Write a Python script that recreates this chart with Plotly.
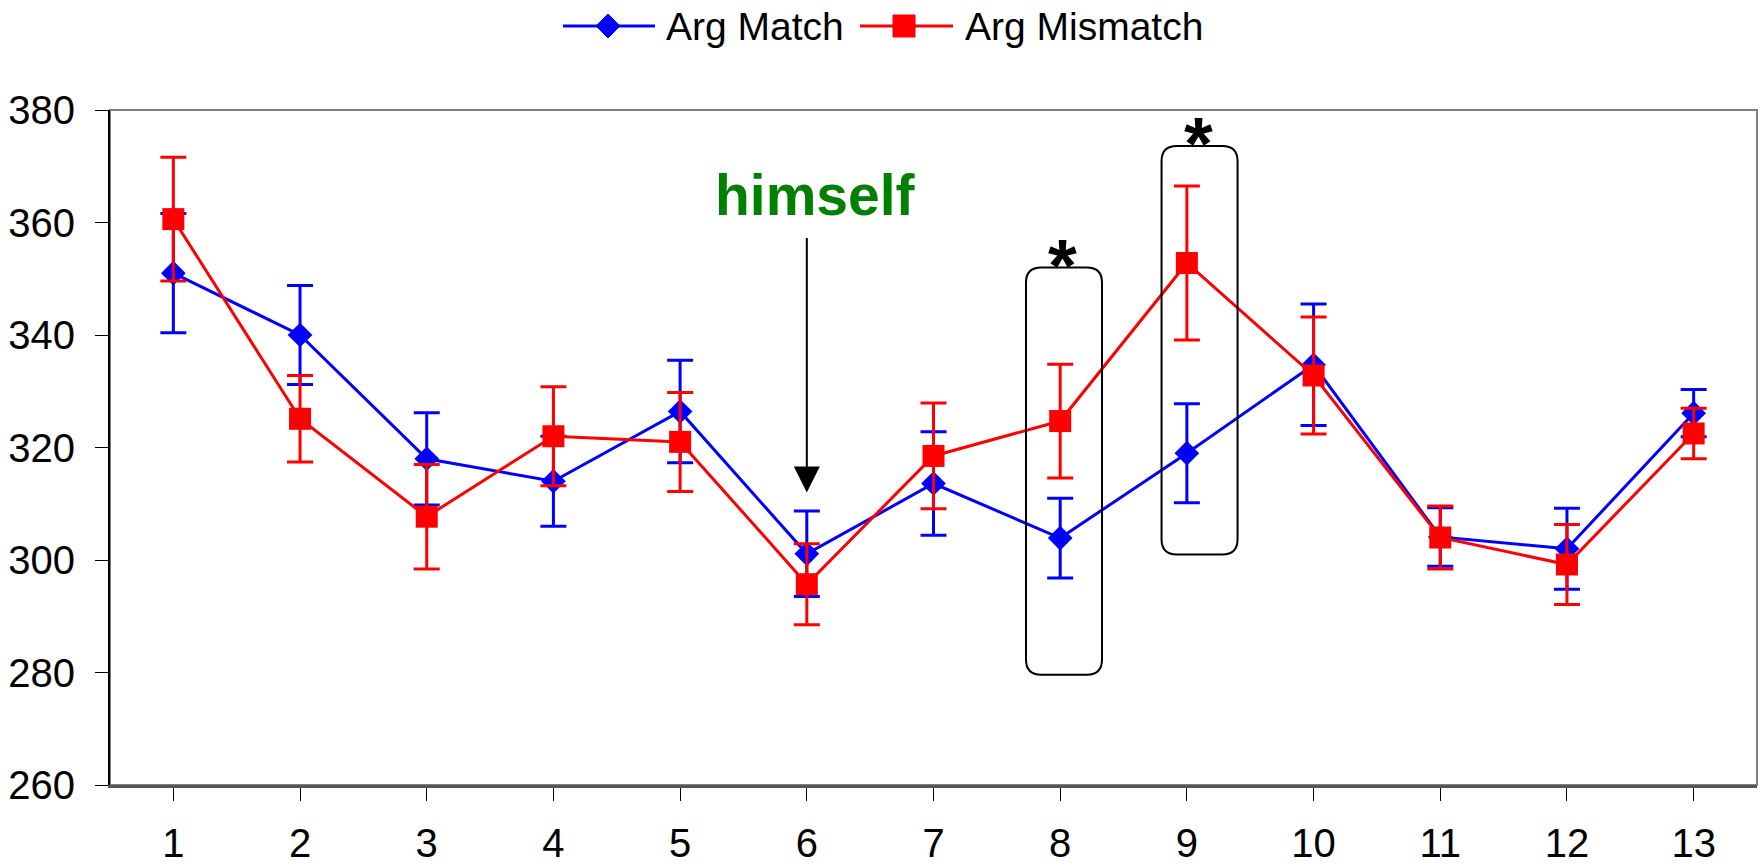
import plotly.graph_objects as go

# Positions 1..13 and mean values with standard errors
positions = list(range(1, 14))
tick_labels = [str(p) for p in positions]

match_mean = [351.0, 340.0, 318.0, 314.0, 326.4, 301.1, 313.6, 303.9, 319.0, 334.7, 304.1, 302.0, 326.1]
match_err = [10.6, 8.8, 8.2, 8.0, 9.1, 7.6, 9.2, 7.1, 8.8, 10.8, 5.2, 7.2, 4.2]

mismatch_mean = [360.6, 325.1, 307.7, 322.0, 321.0, 295.7, 318.5, 324.7, 352.8, 332.8, 304.0, 299.2, 322.5]
mismatch_err = [11.0, 7.7, 9.3, 8.8, 8.8, 7.2, 9.4, 10.1, 13.7, 10.4, 5.6, 7.1, 4.5]

y_ticks = [260, 280, 300, 320, 340, 360, 380]

series_names = ["Arg Match", "Arg Mismatch"]

FONT = "Liberation Sans, Arial, sans-serif"
BLUE = "#0000FF"
RED = "#FF0000"

W, H = 1761, 867
ML, MR, MT, MB = 110, 4, 110, 82
PW, PH = W - ML - MR, H - MT - MB

fig = go.Figure()

fig.add_trace(go.Scatter(
    x=positions, y=match_mean, name=series_names[0], mode="lines+markers",
    line=dict(color=BLUE, width=3),
    marker=dict(symbol="diamond", size=19, color=BLUE),
    error_y=dict(type="data", array=match_err, visible=True,
                 color=BLUE, thickness=3, width=13),
))
fig.add_trace(go.Scatter(
    x=positions, y=mismatch_mean, name=series_names[1], mode="lines+markers",
    line=dict(color=RED, width=3),
    marker=dict(symbol="square", size=22, color=RED),
    error_y=dict(type="data", array=mismatch_err, visible=True,
                 color=RED, thickness=3, width=13),
))


def rounded_box(x0, x1, y0, y1, rx=0.12, ry=2.7):
    """SVG path for a rounded rectangle in data coordinates."""
    return (f"M {x0+rx},{y0} L {x1-rx},{y0} Q {x1},{y0} {x1},{y0+ry} "
            f"L {x1},{y1-ry} Q {x1},{y1} {x1-rx},{y1} "
            f"L {x0+rx},{y1} Q {x0},{y1} {x0},{y1-ry} "
            f"L {x0},{y0+ry} Q {x0},{y0} {x0+rx},{y0} Z")


def px_x(px):
    """Horizontal pixel position -> paper coordinate."""
    return (px - ML) / PW


def px_y(py):
    """Vertical pixel position (from top) -> paper coordinate."""
    return (H - MB - py) / PH


shapes = [
    # plot frame (grey top / right edges)
    dict(type="rect", xref="paper", yref="paper", x0=0, x1=1, y0=0, y1=1,
         line=dict(color="#808080", width=2), layer="below"),
    # highlighted positions
    dict(type="path", xref="x", yref="y",
         path=rounded_box(7.73, 8.33, 279.6, 352.0),
         line=dict(color="black", width=2)),
    dict(type="path", xref="x", yref="y",
         path=rounded_box(8.80, 9.40, 301.0, 373.6),
         line=dict(color="black", width=2)),
]

# Legend drawn above the plot with long sample lines
leg_y = 26
for (x0, x1), color in zip([(563, 655), (860, 953)], [BLUE, RED]):
    shapes.append(dict(type="line", xref="paper", yref="paper",
                       x0=px_x(x0), x1=px_x(x1), y0=px_y(leg_y), y1=px_y(leg_y),
                       line=dict(color=color, width=3)))
# diamond sample
cx, r = 608, 12
shapes.append(dict(type="path", xref="paper", yref="paper",
                   path=(f"M {px_x(cx - r)},{px_y(leg_y)} L {px_x(cx)},{px_y(leg_y - r)} "
                         f"L {px_x(cx + r)},{px_y(leg_y)} L {px_x(cx)},{px_y(leg_y + r)} Z"),
                   fillcolor=BLUE, line=dict(color=BLUE, width=1)))
# square sample
cx, r = 904, 11
shapes.append(dict(type="rect", xref="paper", yref="paper",
                   x0=px_x(cx - r), x1=px_x(cx + r), y0=px_y(leg_y + r), y1=px_y(leg_y - r),
                   fillcolor=RED, line=dict(color=RED, width=1)))

annotations = [
    dict(x=px_x(664), y=px_y(leg_y), xref="paper", yref="paper", text=series_names[0],
         showarrow=False, xanchor="left", yanchor="middle",
         font=dict(family=FONT, size=39, color="black")),
    dict(x=px_x(963), y=px_y(leg_y), xref="paper", yref="paper", text=series_names[1],
         showarrow=False, xanchor="left", yanchor="middle",
         font=dict(family=FONT, size=39, color="black")),
    dict(x=6.07, y=364.9, xref="x", yref="y", text="<b>himself</b>",
         showarrow=False, font=dict(family=FONT, size=57, color="#008000"),
         xanchor="center", yanchor="middle"),
    dict(x=6, y=312.0, xref="x", yref="y", ax=6, ay=357.5, axref="x", ayref="y",
         text="", showarrow=True, arrowhead=2, arrowsize=2.6, arrowwidth=2,
         arrowcolor="black"),
    dict(x=8.02, y=352.3, xref="x", yref="y", text="<b>*</b>", showarrow=False,
         font=dict(family=FONT, size=74, color="black"),
         xanchor="center", yanchor="middle"),
    dict(x=9.09, y=374.0, xref="x", yref="y", text="<b>*</b>", showarrow=False,
         font=dict(family=FONT, size=74, color="black"),
         xanchor="center", yanchor="middle"),
]

fig.update_layout(
    width=W, height=H,
    margin=dict(l=ML, r=MR, t=MT, b=MB),
    paper_bgcolor="white", plot_bgcolor="white",
    font=dict(family=FONT, size=40, color="black"),
    showlegend=False,
    shapes=shapes,
    annotations=annotations,
)

fig.update_xaxes(
    range=[0.5, 13.5], tickmode="array", tickvals=positions, ticktext=tick_labels,
    tickson="boundaries", ticks="outside", ticklen=13, tickwidth=1,
    tickcolor="black", showline=True, linecolor="#555555", linewidth=3,
    showgrid=False, zeroline=False, ticklabelstandoff=8, automargin=False,
    tickfont=dict(family=FONT, size=40, color="black"),
)
fig.update_yaxes(
    range=[260, 380], tickmode="array", tickvals=y_ticks,
    ticks="outside", ticklen=13, tickwidth=1, tickcolor="black",
    showline=True, linecolor="black", linewidth=2,
    showgrid=False, zeroline=False, ticklabelstandoff=12, automargin=False,
    tickfont=dict(family=FONT, size=40, color="black"),
)

fig.write_html("out.html")
